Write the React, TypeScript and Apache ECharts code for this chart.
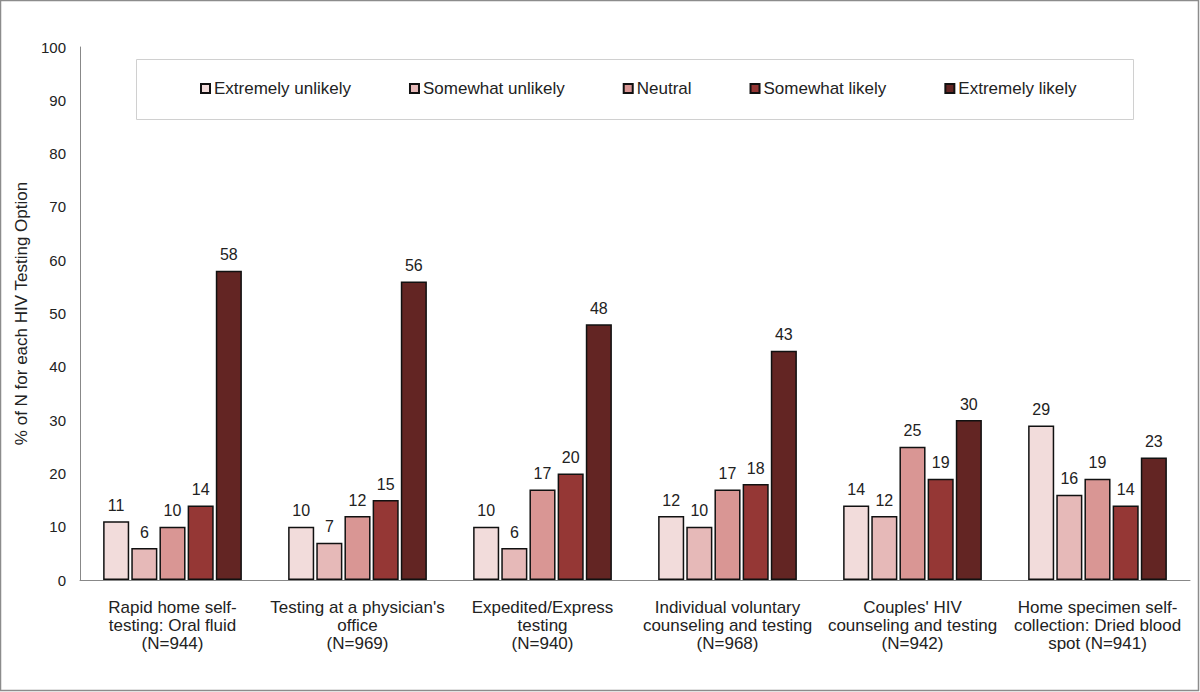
import React, { useEffect, useRef } from "react";
import * as echarts from "echarts";

const categories = [
  "Rapid home self-\ntesting: Oral fluid\n(N=944)",
  "Testing at a physician's\noffice\n(N=969)",
  "Expedited/Express\ntesting\n(N=940)",
  "Individual voluntary\ncounseling and testing\n(N=968)",
  "Couples' HIV\ncounseling and testing\n(N=942)",
  "Home specimen self-\ncollection: Dried blood\nspot (N=941)",
];
const seriesNames = ["Extremely unlikely", "Somewhat unlikely", "Neutral", "Somewhat likely", "Extremely likely"];
const extremelyUnlikely = [11, 10, 10, 12, 14, 29];
const somewhatUnlikely = [6, 7, 6, 10, 12, 16];
const neutral = [10, 12, 17, 17, 25, 19];
const somewhatLikely = [14, 15, 20, 18, 19, 14];
const extremelyLikely = [58, 56, 48, 43, 30, 23];
const colors = ["#f2dcdb", "#e6b9b8", "#d99694", "#953735", "#632523"];
const yAxisName = "% of N for each HIV Testing Option";

export default function App() {
  const ref = useRef<HTMLDivElement>(null);
  useEffect(() => {
    document.body.style.margin = "0";
    const chart = echarts.init(ref.current!, null, { renderer: "svg" });
    const font = "'Liberation Sans', Arial, sans-serif";
    const data = [extremelyUnlikely, somewhatUnlikely, neutral, somewhatLikely, extremelyLikely];
    chart.setOption({
      animation: false,
      backgroundColor: "#fff",
      textStyle: { fontFamily: font },
      graphic: [
        {
          type: "rect",
          shape: { x: 0.5, y: 0.5, width: 1198, height: 690 },
          style: { fill: "none", stroke: "#8c8c8c", lineWidth: 1.5 },
          z: 0,
        },
        {
          type: "rect",
          shape: { x: 136.5, y: 59.5, width: 997, height: 60 },
          style: { fill: "#fff", stroke: "#d0d0d0", lineWidth: 1 },
          z: 0,
        },
      ],
      legend: {
        data: seriesNames,
        left: 195,
        top: 75,
        itemWidth: 9,
        itemHeight: 9,
        itemGap: 58,
        icon: "rect",
        textStyle: { fontFamily: font, fontSize: 17, color: "#222", padding: [0, 0, 0, -1] },
        z: 5,
      },
      grid: { left: 80, right: 10, top: 47, bottom: 112, containLabel: false },
      xAxis: {
        type: "category",
        data: categories,
        axisLine: { lineStyle: { color: "#888", width: 1 } },
        axisTick: { show: false },
        axisLabel: { fontFamily: font, fontSize: 17, color: "#222", lineHeight: 18, margin: 18, interval: 0 },
      },
      yAxis: {
        type: "value",
        min: 0,
        max: 100,
        interval: 10,
        name: yAxisName,
        nameLocation: "middle",
        nameGap: 44,
        nameTextStyle: { fontFamily: font, fontSize: 17, color: "#222" },
        axisLine: { show: true, lineStyle: { color: "#888", width: 1 } },
        axisTick: { show: false },
        splitLine: { show: false },
        axisLabel: { fontFamily: font, fontSize: 15, color: "#222", margin: 14 },
      },
      series: seriesNames.map((name, i) => ({
        name,
        type: "bar",
        data: data[i],
        barGap: "8%",
        barCategoryGap: "25%",
        itemStyle: { color: colors[i], borderColor: "#111", borderWidth: 1.5 },
        label: {
          show: true,
          position: "top",
          distance: 8,
          fontFamily: font,
          fontSize: 16,
          color: "#222",
        },
      })),
    });
    return () => chart.dispose();
  }, []);
  return <div ref={ref} style={{ width: 1200, height: 692 }} />;
}
